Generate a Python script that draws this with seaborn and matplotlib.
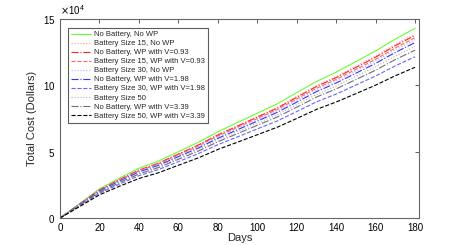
import numpy as np
import pandas as pd
import matplotlib
matplotlib.use("Agg")
import matplotlib.pyplot as plt
import seaborn as sns

days = np.arange(0, 181, 10)

# total cost in units of 1e4 dollars
no_bat_no_wp = [0, 1.10, 2.20, 3.00, 3.75, 4.30, 5.00, 5.70, 6.50, 7.20, 7.90, 8.60, 9.45, 10.30, 11.00, 11.80, 12.60, 13.50, 14.30]
bat15_no_wp = [0, 1.07, 2.13, 2.91, 3.64, 4.17, 4.85, 5.53, 6.31, 6.98, 7.66, 8.34, 9.17, 9.99, 10.67, 11.45, 12.22, 13.10, 13.87]
no_bat_wp093 = [0, 1.06, 2.12, 2.89, 3.61, 4.14, 4.82, 5.49, 6.26, 6.93, 7.61, 8.28, 9.10, 9.92, 10.59, 11.36, 12.13, 13.00, 13.77]
bat15_wp093 = [0, 1.05, 2.09, 2.85, 3.56, 4.09, 4.75, 5.42, 6.18, 6.84, 7.51, 8.17, 8.98, 9.79, 10.45, 11.21, 11.97, 12.83, 13.59]
bat30_no_wp = [0, 1.03, 2.07, 2.82, 3.53, 4.04, 4.70, 5.36, 6.11, 6.77, 7.43, 8.08, 8.88, 9.68, 10.34, 11.09, 11.84, 12.69, 13.44]
no_bat_wp198 = [0, 1.02, 2.04, 2.78, 3.47, 3.98, 4.63, 5.27, 6.01, 6.66, 7.31, 7.96, 8.74, 9.53, 10.18, 10.92, 11.66, 12.49, 13.23]
bat30_wp198 = [0, 0.94, 1.87, 2.55, 3.19, 3.66, 4.25, 4.85, 5.53, 6.12, 6.72, 7.31, 8.03, 8.76, 9.35, 10.03, 10.71, 11.48, 12.16]
bat50 = [0, 1.00, 1.99, 2.72, 3.39, 3.89, 4.53, 5.16, 5.88, 6.52, 7.15, 7.78, 8.55, 9.32, 9.96, 10.68, 11.40, 12.22, 12.94]
no_bat_wp339 = [0, 0.97, 1.95, 2.66, 3.32, 3.81, 4.43, 5.04, 5.75, 6.37, 6.99, 7.61, 8.36, 9.12, 9.74, 10.44, 11.15, 11.95, 12.66]
bat50_wp339 = [0, 0.87, 1.75, 2.39, 2.98, 3.42, 3.98, 4.53, 5.17, 5.72, 6.28, 6.84, 7.51, 8.19, 8.75, 9.38, 10.02, 10.73, 11.37]

labels = ["No Battery, No WP", "Battery Size 15, No WP", "No Battery, WP with V=0.93",
          "Battery Size 15, WP with V=0.93", "Battery Size 30, No WP", "No Battery, WP with V=1.98",
          "Battery Size 30, WP with V=1.98", "Battery Size 50", "No Battery, WP with V=3.39",
          "Battery Size 50, WP with V=3.39"]
series = [no_bat_no_wp, bat15_no_wp, no_bat_wp093, bat15_wp093, bat30_no_wp,
          no_bat_wp198, bat30_wp198, bat50, no_bat_wp339, bat50_wp339]
colors = ["#66ff33", "#ff9999", "#ff2020", "#ff6666", "#b0b0ff",
          "#3333ff", "#6666ff", "#b0b0b0", "#707070", "#000000"]
styles = ["-", ":", "-.", "--", ":", "-.", "--", ":", "-.", "--"]

sns.set_style("white")
plt.rcParams["font.family"] = ["Liberation Sans", "DejaVu Sans"]

fig = plt.figure(figsize=(4.63, 2.45), dpi=100)
ax = fig.add_axes([0.1296, 0.110, 0.7754, 0.812])

for lab, vals, c, ls in zip(labels, series, colors, styles):
    df = pd.DataFrame({"day": days, "cost": np.array(vals) * 1e4})
    sns.lineplot(data=df, x="day", y="cost", color=c, linestyle=ls, linewidth=0.8, label=lab, ax=ax)

ax.set_xlim(0, 182)
ax.set_ylim(0, 15e4)
ax.set_xticks(np.arange(0, 181, 20))
ax.set_yticks([0, 5e4, 10e4, 15e4])
ax.ticklabel_format(axis="y", style="sci", scilimits=(4, 4), useMathText=True)
ax.yaxis.get_offset_text().set_fontsize(7)
ax.tick_params(direction="in", length=3, width=0.6, labelsize=7, top=True, right=True, colors="#444444", labelcolor="black")
for sp in ax.spines.values():
    sp.set_color("#666666")
    sp.set_linewidth(0.8)
ax.set_xlabel("Days", fontsize=8, labelpad=0)
ax.set_ylabel("Total Cost (Dollars)", fontsize=8)

leg = ax.legend(loc="upper left", fontsize=5.5, frameon=True, fancybox=False, handlelength=2.6,
                borderpad=0.4, labelspacing=0.22, handletextpad=0.4, bbox_to_anchor=(0.012, 0.975))
leg.get_frame().set_edgecolor("#333333")
leg.get_frame().set_linewidth(0.8)

fig.savefig("out.png", dpi=100)
